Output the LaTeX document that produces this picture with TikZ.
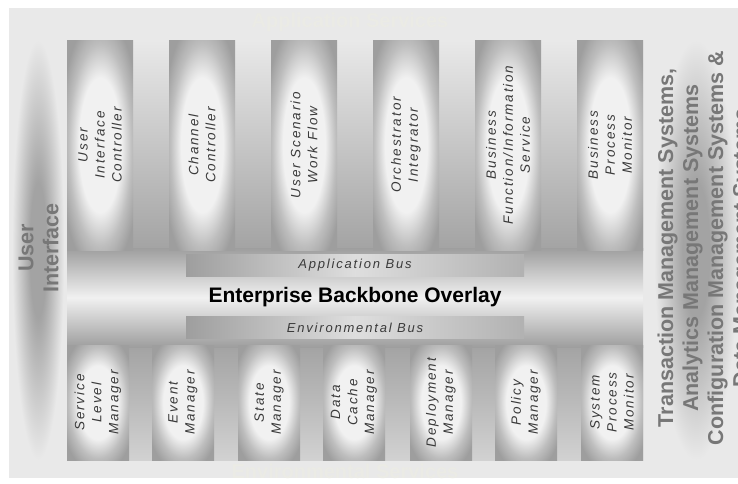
\documentclass[tikz,border=0pt]{standalone}
\usepackage{fontspec}
\setmainfont{Liberation Sans}
\newfontfamily\spacedfont[LetterSpace=14]{Liberation Sans}

\definecolor{bgGray}{HTML}{E9E9E9}
\definecolor{colDark}{HTML}{9E9E9E}
\definecolor{colMid}{HTML}{BEBEBE}
\definecolor{colLight}{HTML}{F1F1F1}
\definecolor{sideDark}{HTML}{A3A3A3}
\definecolor{labelGray}{HTML}{3A3A3A}
\definecolor{sideGray}{HTML}{777777}
\definecolor{faintText}{HTML}{EBEBE5}

\pgfdeclareradialshading{colglow}{\pgfpoint{0bp}{0bp}}{color(0bp)=(colLight); color(16bp)=(colLight); color(24bp)=(colMid); color(31bp)=(colDark); color(50bp)=(colDark)}
\pgfdeclareradialshading{sideglow}{\pgfpoint{0bp}{0bp}}{color(0bp)=(sideDark); color(8bp)=(sideDark); color(25bp)=(bgGray); color(50bp)=(bgGray)}

\begin{document}
\begin{tikzpicture}[x=1pt, y=-1pt,
            every node/.style = {inner sep=0pt},
            topcol/.style = {minimum width=210pt, minimum height=66pt, rotate=90, shading=colglow, align=center, text=labelGray, font=\spacedfont\itshape\fontsize{13.5}{17}\selectfont},
            botcol/.style = {topcol, minimum width=115pt, minimum height=62pt},
            bus/.style = {minimum width=338pt, minimum height=22pt, left color=colDark, right color=colDark!80!white, middle color=colLight!92!black, text=labelGray, font=\spacedfont\itshape\fontsize{13}{15}\selectfont},
            side/.style = {rotate=90, align=center, text=sideGray, font=\bfseries\fontsize{21.5}{25}\selectfont},
            faint/.style = {text=faintText, font=\bfseries\fontsize{20}{24}\selectfont}]
            \useasboundingbox (0,0) rectangle (738,483);
            \fill[white] (0,0) rectangle (738,483);
            \fill[bgGray] (9,8) rectangle (738,478);
            % side pillars
            \shade[shading=sideglow] (12,40) rectangle (64,460);
            \shade[shading=sideglow] (654,40) rectangle (738,460);
            % backbone body
            \path[top color=bgGray, bottom color=colDark!95!white] (67,40) rectangle (643,250);
            \path[top color=colDark!95!white, bottom color=bgGray!90!black] (67,345) rectangle (643,460);
            \path[top color=colDark, bottom color=colDark, middle color=colLight] (67,248) rectangle (643,347);
            % application side
            \node[topcol] (uictrl) at (100,145) {User\\Interface\\Controller};
            \node[topcol] (chctrl) at (202,145) {Channel\\Controller};
            \node[topcol] (uswf) at (304,145) {User Scenario\\Work Flow};
            \node[topcol] (orch) at (406,145) {Orchestrator\\Integrator};
            \node[topcol] (bfis) at (508,145) {Business\\Function/Information\\Service};
            \node[topcol] (bpm) at (610,145) {Business\\Process\\Monitor};
            % environment side
            \node[botcol] (slm) at (98,402.5) {Service\\Level\\Manager};
            \node[botcol] (evm) at (183,402.5) {Event\\Manager};
            \node[botcol] (stm) at (269,402.5) {State\\Manager};
            \node[botcol] (dcm) at (354,402.5) {Data\\Cache\\Manager};
            \node[botcol] (dpm) at (441,402.5) {Deployment\\Manager};
            \node[botcol] (plm) at (526,402.5) {Policy\\Manager};
            \node[botcol] (spm) at (612,402.5) {System\\Process\\Monitor};
            % buses
            \node[bus] (appbus) at (355,265.5) {Application Bus};
            \node[bus] (envbus) at (355,327.5) {Environmental Bus};
            \node[font=\bfseries\fontsize{21}{24}\selectfont] (overlay) at (355,297) {Enterprise Backbone Overlay};
            % side texts
            \node[side] (ui) at (38.5,248) {User\\Interface};
            \node[side] (mgmt) at (705,248) {Transaction Management Systems,\\Analytics Management Systems\\Configuration Management Systems \&\\Data Management Systems};
            \node[faint] (appsvc) at (350,22) {Application Services};
            \node[faint] (envsvc) at (345,471) {Environmental Services};
        \end{tikzpicture}
\end{document}
